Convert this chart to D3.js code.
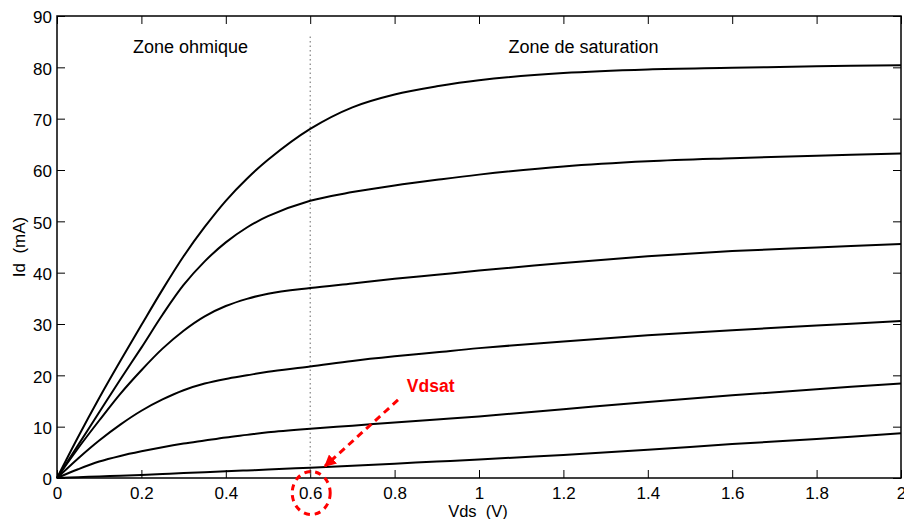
<!DOCTYPE html>
<html>
<head>
<meta charset="utf-8">
<script src="https://cdn.jsdelivr.net/npm/d3@7"></script>
<style>
  html, body { margin: 0; padding: 0; background: #fff; }
  svg { display: block; font-family: "Liberation Sans", Arial, Helvetica, sans-serif; }
</style>
</head>
<body>
<svg id="chart" width="904" height="519"></svg>
<script>
// Drain voltage grid (V) shared by all characteristic curves
const vds = [0, 0.05, 0.1, 0.15, 0.2, 0.25, 0.3, 0.35, 0.4, 0.45, 0.5,
             0.6, 0.7, 0.8, 0.9, 1.0, 1.2, 1.4, 1.6, 1.8, 2.0];

// Drain current (mA) for each gate voltage, highest Vgs first
const idCurve1 = [0, 8.0, 15.6, 22.8, 29.8, 36.7, 43.2, 48.9, 54.0, 58.3, 62.0,
                  68.0, 72.2, 74.7, 76.3, 77.5, 78.9, 79.6, 79.9, 80.2, 80.4];
const idCurve2 = [0, 6.4, 12.8, 19.2, 25.4, 31.8, 37.6, 42.2, 45.9, 48.8, 51.0,
                  54.0, 55.7, 57.0, 58.1, 59.1, 60.7, 61.7, 62.3, 62.8, 63.2];
const idCurve3 = [0, 5.8, 11.2, 16.4, 21.0, 25.2, 28.7, 31.5, 33.5, 34.9, 35.9,
                  37.0, 37.9, 38.8, 39.6, 40.4, 41.9, 43.2, 44.2, 44.9, 45.6];
const idCurve4 = [0, 3.8, 7.3, 10.4, 13.1, 15.3, 17.1, 18.4, 19.3, 20.0, 20.7,
                  21.7, 22.8, 23.7, 24.5, 25.3, 26.6, 27.8, 28.8, 29.7, 30.6];
const idCurve5 = [0, 1.7, 3.2, 4.3, 5.2, 6.0, 6.7, 7.3, 7.9, 8.4, 8.9,
                  9.6, 10.2, 10.8, 11.4, 12.0, 13.4, 14.8, 16.1, 17.3, 18.4];
const idCurve6 = [0, 0.15, 0.3, 0.45, 0.6, 0.78, 0.95, 1.12, 1.3, 1.47, 1.65,
                  2.0, 2.4, 2.8, 3.2, 3.6, 4.5, 5.5, 6.6, 7.6, 8.7];
const curves = [idCurve1, idCurve2, idCurve3, idCurve4, idCurve5, idCurve6];

// Axis ticks
const xTicks = [0, 0.2, 0.4, 0.6, 0.8, 1, 1.2, 1.4, 1.6, 1.8, 2];
const yTicks = [0, 10, 20, 30, 40, 50, 60, 70, 80, 90];

// Saturation boundary
const vdsat = 0.6;
const zoneTop = 86;

const margin = { top: 16, right: 3, bottom: 41, left: 57 };
const width = 904 - margin.left - margin.right;
const height = 519 - margin.top - margin.bottom;

const svg = d3.select("#chart");
const g = svg.append("g").attr("transform", `translate(${margin.left},${margin.top})`);

const x = d3.scaleLinear().domain([0, 2]).range([0, width]);
const y = d3.scaleLinear().domain([0, 90]).range([height, 0]);

const tickFmt = d => d3.format("~g")(d);

// Axes with inward ticks on all four sides
const axisStyle = sel => {
  sel.select(".domain").remove();
  sel.selectAll(".tick line").attr("stroke", "#000").attr("stroke-width", 1);
  sel.selectAll(".tick text").attr("fill", "#000").attr("font-size", 17)
     .attr("font-family", "Liberation Sans, Arial, sans-serif");
};

g.append("g").attr("transform", `translate(0,${height})`)
  .call(d3.axisBottom(x).tickValues(xTicks).tickFormat(tickFmt).tickSizeInner(-8).tickSizeOuter(0).tickPadding(9))
  .call(axisStyle);
g.append("g")
  .call(d3.axisTop(x).tickValues(xTicks).tickFormat("").tickSizeInner(-8).tickSizeOuter(0))
  .call(axisStyle);
g.append("g")
  .call(d3.axisLeft(y).tickValues(yTicks).tickFormat(tickFmt).tickSizeInner(-8).tickSizeOuter(0).tickPadding(5))
  .call(axisStyle)
  .selectAll(".tick text").attr("dy", "0.4em");
g.append("g").attr("transform", `translate(${width},0)`)
  .call(d3.axisRight(y).tickValues(yTicks).tickFormat("").tickSizeInner(-8).tickSizeOuter(0))
  .call(axisStyle);

// Vdsat boundary (dotted)
g.append("line")
  .attr("x1", x(vdsat)).attr("x2", x(vdsat))
  .attr("y1", y(zoneTop)).attr("y2", y(0))
  .attr("stroke", "#666").attr("stroke-width", 1)
  .attr("stroke-dasharray", "1.5,3");

// Id(Vds) characteristics
const line = d3.line()
  .x((d, i) => x(vds[i]))
  .y(d => y(d))
  .curve(d3.curveCatmullRom.alpha(0.5));

g.selectAll("path.curve").data(curves).join("path")
  .attr("class", "curve")
  .attr("d", line)
  .attr("fill", "none")
  .attr("stroke", "#000")
  .attr("stroke-width", 2)
  .attr("stroke-linejoin", "round");

// Frame
g.append("rect")
  .attr("x", 0).attr("y", 0).attr("width", width).attr("height", height)
  .attr("fill", "none").attr("stroke", "#000").attr("stroke-width", 1.5);

// Zone labels
g.append("text").attr("x", x(0.18)).attr("y", 37)
  .attr("font-size", 18).attr("fill", "#000").text("Zone ohmique");
g.append("text").attr("x", x(1.07)).attr("y", 37)
  .attr("font-size", 18).attr("fill", "#000").text("Zone de saturation");

// Axis titles
svg.append("text")
  .attr("x", margin.left + width / 2 - 1).attr("y", 516.5)
  .attr("text-anchor", "middle").attr("font-size", 16.5)
  .style("white-space", "pre").text("Vds  (V)");
svg.append("text")
  .attr("transform", `translate(25,${margin.top + height / 2}) rotate(-90)`)
  .attr("text-anchor", "middle").attr("font-size", 17)
  .style("white-space", "pre").text("Id  (mA)");

// Vdsat annotation
const red = "#ff0000";
svg.append("defs").append("marker")
  .attr("id", "head").attr("viewBox", "0 0 10 10")
  .attr("refX", 9).attr("refY", 5)
  .attr("markerWidth", 4).attr("markerHeight", 4)
  .attr("markerUnits", "strokeWidth")
  .attr("orient", "auto")
  .append("path").attr("d", "M0,0 L10,5 L0,10 Z").attr("fill", red);

g.append("line")
  .attr("x1", x(0.808)).attr("y1", y(15.2))
  .attr("x2", x(0.635)).attr("y2", y(2.3))
  .attr("stroke", red).attr("stroke-width", 3)
  .attr("stroke-dasharray", "7,5")
  .attr("marker-end", "url(#head)");

g.append("text").attr("x", x(0.829)).attr("y", y(16.8))
  .attr("font-size", 17.5).attr("font-weight", "bold").attr("fill", red)
  .text("Vdsat");

g.append("ellipse")
  .attr("cx", x(vdsat) + 1).attr("cy", height + 15)
  .attr("rx", 19).attr("ry", 21.5)
  .attr("fill", "none").attr("stroke", red).attr("stroke-width", 3)
  .attr("stroke-dasharray", "6,5");
</script>
</body>
</html>
